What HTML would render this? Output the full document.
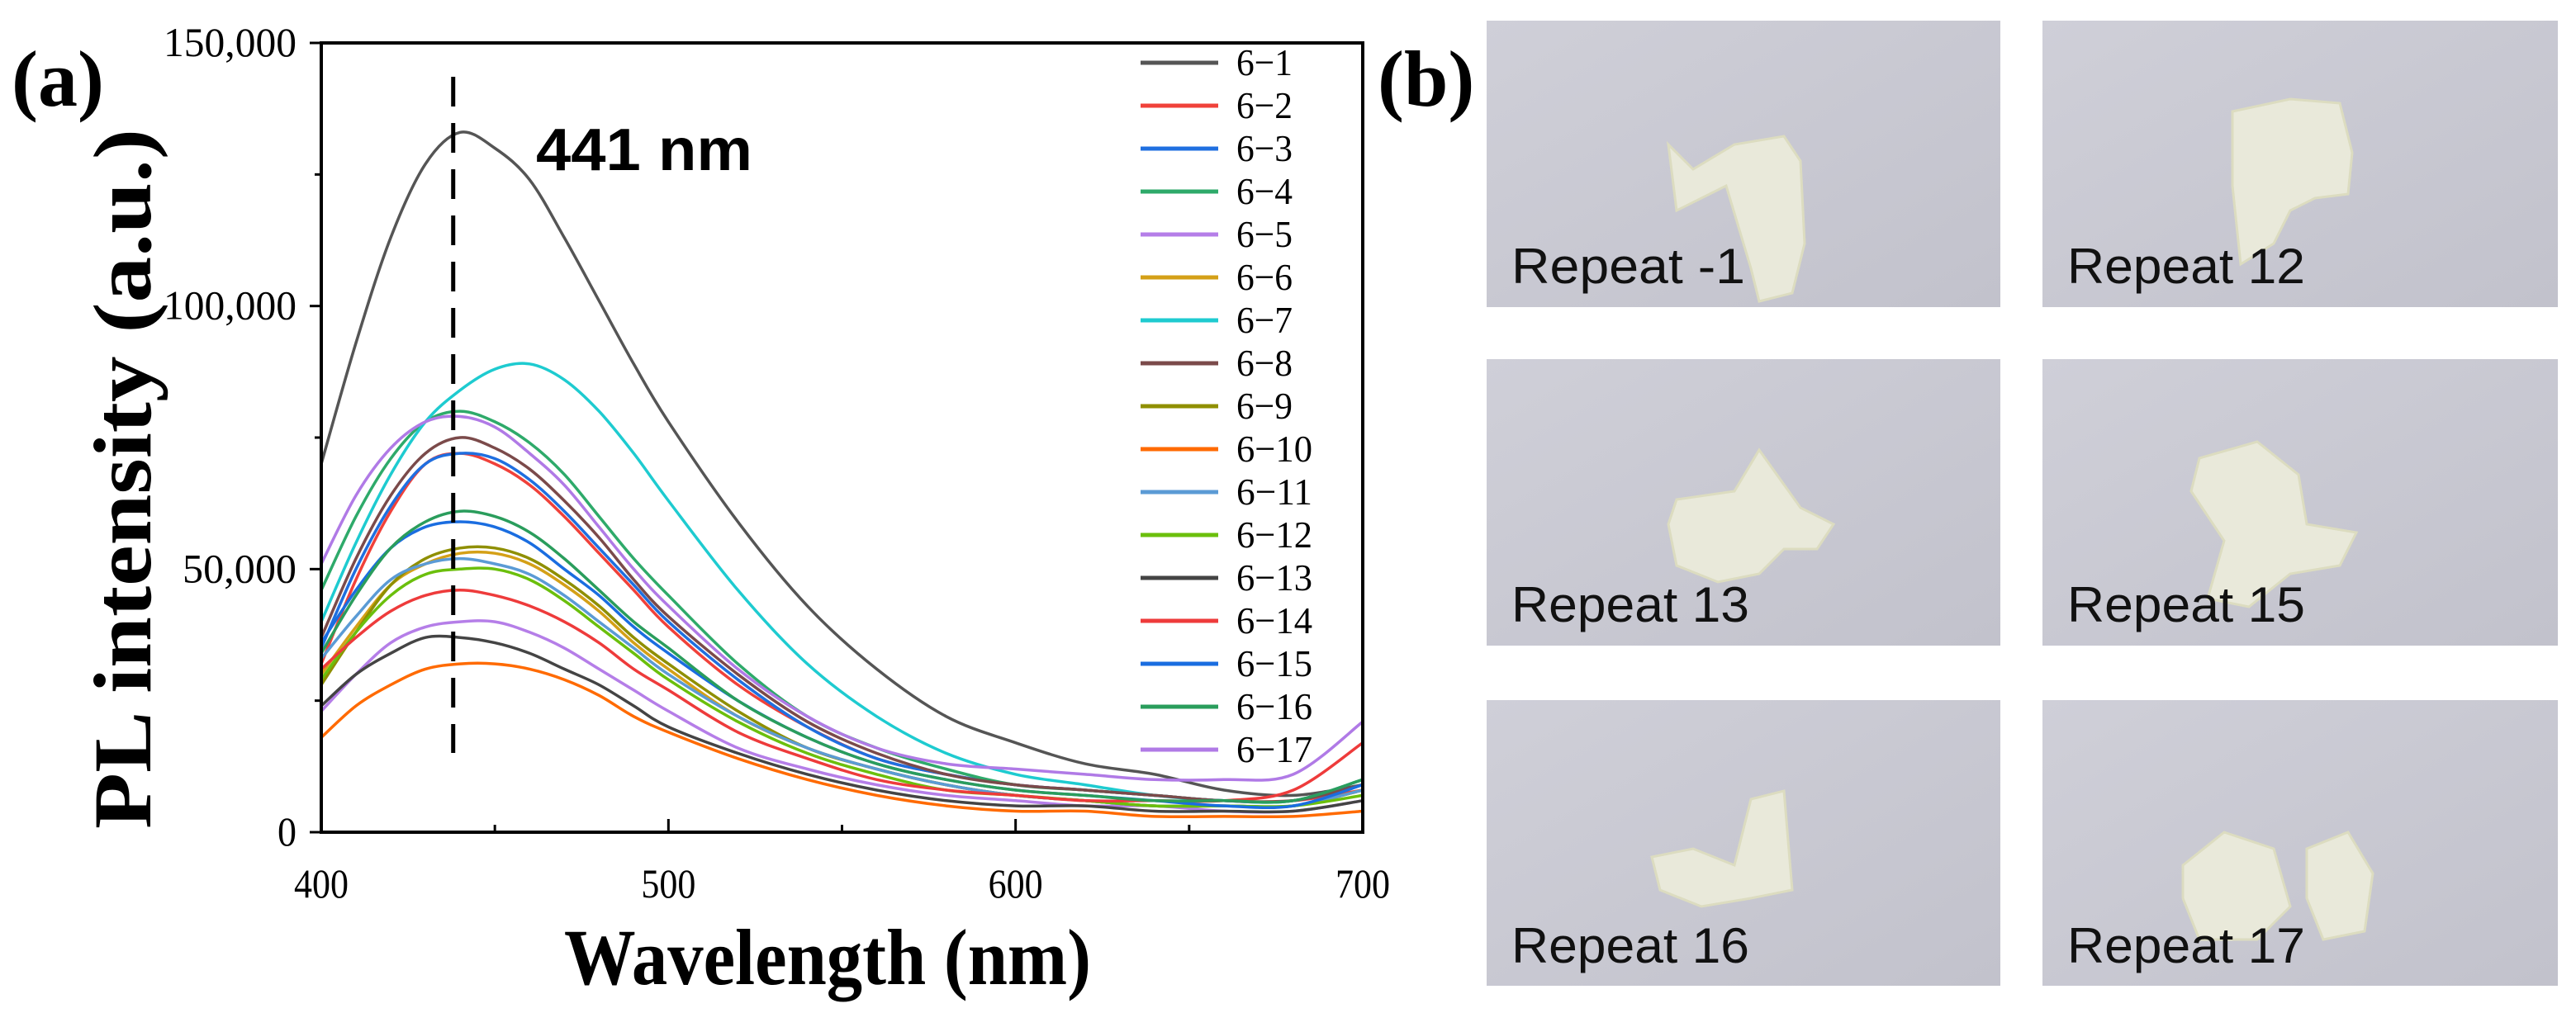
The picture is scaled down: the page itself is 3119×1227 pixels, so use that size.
<!DOCTYPE html>
<html><head><meta charset="utf-8"><style>
html,body{margin:0;padding:0;background:#fff;}
svg{display:block;}
</style></head><body>
<svg id="fig" width="3119" height="1227" viewBox="0 0 3119 1227" xmlns="http://www.w3.org/2000/svg">
<defs>
<linearGradient id="pg" x1="0" y1="0" x2="1" y2="1"><stop offset="0" stop-color="#cfcfd8"/><stop offset="1" stop-color="#c2c2cc"/></linearGradient>
</defs>
<g id="chart"></g>
<text x="14" y="128" font-family="Liberation Serif, serif" font-weight="bold" font-size="96">(a)</text>
<text x="1668" y="128" font-family="Liberation Serif, serif" font-weight="bold" font-size="96">(b)</text>
<g id="photos"></g>
</svg>
<script>
const NS='http://www.w3.org/2000/svg';
const wavelengths=[400,410,420,430,440,450,460,470,480,490,500,520,540,560,580,600,620,640,660,680,700];
const seriesNames=['6-1','6-2','6-3','6-4','6-5','6-6','6-7','6-8','6-9','6-10','6-11','6-12','6-13','6-14','6-15','6-16','6-17'];
const seriesColors=['#555555','#f0413a','#1f6fe0','#2eaa6a','#b57ee8','#d4a017','#1ecbd0','#7b4a4a','#8f8f00','#ff6a00','#5b9bd5','#6bbf0c','#444444','#ee3b3b','#1a6de0','#2a9d5c','#b07ae6'];
const s1=[70,93,113,127,133,130,124,113,101,89,78,59,43,31,22,17,13,11,8,7,9];
const s2=[32,48,61,70,72,70,66,60,53,46,39,28,20,14,11,9,8,7,6,6,8];
const s3=[35,50,62,70,72,71,67,61,54,47,40,29,20,14,11,9,8,7,6,6,9];
const s4=[46,60,71,78,80,78,74,68,60,52,45,32,22,16,12,9,8,7,6,6,10];
const s5=[23,30,36,39,40,40,38,35,31,27,23,16,12,9,7,6,5,5,4,4,6];
const s6=[30,39,47,51,53,53,51,47,42,36,31,22,16,12,9,7,6,5,5,5,8];
const s7=[40,55,68,78,84,88,89,86,80,72,63,46,32,22,15,11,9,7,6,6,10];
const s8=[37,52,64,72,75,73,69,63,56,48,41,30,21,15,11,9,8,7,6,6,9];
const s9=[28,38,47,52,54,54,52,48,43,37,32,23,16,12,9,7,6,5,5,5,8];
const s10=[18,24,28,31,32,32,31,29,26,22,19,14,10,7,5,4,4,3,3,3,4];
const s11=[33,41,48,51,52,51,49,45,40,35,30,22,16,12,9,7,6,5,5,5,8];
const s12=[29,38,45,49,50,50,48,44,39,34,29,21,15,11,8,7,6,5,5,5,7];
const s13=[24,30,34,37,37,36,34,31,28,24,20,15,11,8,6,5,5,4,4,4,6];
const s14=[31,37,42,45,46,45,43,40,36,31,27,19,14,10,8,7,6,6,6,8,17];
const s15=[36,46,54,58,59,58,55,50,45,39,34,25,18,13,10,8,7,6,5,5,9];
const s16=[34,45,54,59,61,60,57,52,46,40,35,25,18,13,10,8,7,6,6,6,10];
const s17=[51,64,73,78,79,77,72,66,58,50,43,31,22,16,13,12,11,10,10,11,21];
const seriesValues=[s1,s2,s3,s4,s5,s6,s7,s8,s9,s10,s11,s12,s13,s14,s15,s16,s17];
const xTicks=[400,500,600,700];
const yTicks=[0,50000,100000,150000];
const yTickLabels=['0','50,000','100,000','150,000'];
const peakWavelength=438;

const L=389,R=1650,T=52,B=1008;
const X=v=>L+(v-400)/300*(R-L);
const Y=v=>B-v/150000*(B-T);
const chart=document.getElementById('chart');
function mk(tag,attrs,parent){const e=document.createElementNS(NS,tag);for(const k in attrs)e.setAttribute(k,attrs[k]);(parent||chart).appendChild(e);return e;}
const SERIF='Liberation Serif, serif';

// curves
const cg=mk('g',{'clip-path':''});
seriesValues.forEach((vals,i)=>{
  const pts=vals.map((v,j)=>[X(wavelengths[j]),Y(v*1000)]);
  let d='M'+pts[0][0].toFixed(1)+' '+pts[0][1].toFixed(1);
  for(let j=0;j<pts.length-1;j++){
    const p0=pts[Math.max(0,j-1)],p1=pts[j],p2=pts[j+1],p3=pts[Math.min(pts.length-1,j+2)];
    const c1=[p1[0]+(p2[0]-p0[0])/6,p1[1]+(p2[1]-p0[1])/6];
    const c2=[p2[0]-(p3[0]-p1[0])/6,p2[1]-(p3[1]-p1[1])/6];
    d+=' C'+c1[0].toFixed(1)+' '+c1[1].toFixed(1)+' '+c2[0].toFixed(1)+' '+c2[1].toFixed(1)+' '+p2[0].toFixed(1)+' '+p2[1].toFixed(1);
  }
  const p=mk('path',{d:d,fill:'none',stroke:seriesColors[i],'stroke-width':3.5},cg);
  
  
});

// frame
const fr=mk('rect',{x:L,y:T,width:R-L,height:B-T,fill:'none',stroke:'#000','stroke-width':4});



// x ticks
xTicks.forEach(t=>{
  const ln=mk('line',{x1:X(t),x2:X(t),y1:B,y2:B-16,stroke:'#000','stroke-width':3});
  
  
  const tx=mk('text',{x:X(t),y:1087,'text-anchor':'middle','font-family':SERIF,'font-size':50,textLength:String(t).length*22,lengthAdjust:'spacingAndGlyphs'});
  tx.textContent=t;
  
  
});
[450,550,650].forEach(t=>{mk('line',{x1:X(t),x2:X(t),y1:B,y2:B-9,stroke:'#000','stroke-width':3});});
// y ticks
yTicks.forEach((t,i)=>{
  const ln=mk('line',{x1:L,x2:L-14,y1:Y(t),y2:Y(t),stroke:'#000','stroke-width':3});
  
  
  const lab=yTickLabels[i];
  const tx=mk('text',{x:L-30,y:Y(t)+16,'text-anchor':'end','font-family':SERIF,'font-size':50,textLength:lab.length*23,lengthAdjust:'spacingAndGlyphs'});
  tx.textContent=lab;
  
  
});
[25000,75000,125000].forEach(t=>{mk('line',{x1:L,x2:L-8,y1:Y(t),y2:Y(t),stroke:'#000','stroke-width':3});});

// titles
const yt=mk('text',{x:0,y:0,transform:'translate(182,580) rotate(-90)','text-anchor':'middle','font-family':SERIF,'font-weight':'bold','font-size':100,textLength:848,lengthAdjust:'spacingAndGlyphs'});
yt.textContent='PL intensity (a.u.)';


const xt=mk('text',{x:1002,y:1192,'text-anchor':'middle','font-family':SERIF,'font-weight':'bold','font-size':96,textLength:638,lengthAdjust:'spacingAndGlyphs'});
xt.textContent='Wavelength (nm)';



// dashed peak line
const dl=mk('line',{x1:X(peakWavelength),x2:X(peakWavelength),y1:93,y2:912,stroke:'#000','stroke-width':5,'stroke-dasharray':'36 20'});


const pk=mk('text',{x:649,y:206,'font-family':'Liberation Sans, sans-serif','font-weight':'bold','font-size':72,textLength:262,lengthAdjust:'spacingAndGlyphs'});
pk.textContent='441 nm';



// legend
const lg=mk('g',{});


seriesNames.forEach((n,i)=>{
  const y=76+i*52;
  const ln=mk('line',{x1:1381,x2:1475,y1:y,y2:y,stroke:seriesColors[i],'stroke-width':5},lg);
  
  
  const tx=mk('text',{x:1497,y:y+15,'font-family':SERIF,'font-size':46,textLength:n.length===3?68:92,lengthAdjust:'spacingAndGlyphs'},lg);
  tx.textContent=n.replace('-','\u2212');
  
  
});

// photos
const photos=document.getElementById('photos');
const photoLabels=['Repeat -1','Repeat 12','Repeat 13','Repeat 15','Repeat 16','Repeat 17'];
const cols=[[1800,2422],[2473,3097]];
const rows=[[25,372],[435,782],[848,1194]];
const blobs=[
 'M250 180 L300 150 L360 140 L380 170 L385 270 L370 330 L330 340 L320 300 L290 200 L230 230 L220 150 Z',
 'M230 110 L300 95 L360 100 L375 160 L370 210 L330 215 L300 230 L280 270 L240 295 L230 200 Z',
 'M230 170 L300 160 L330 110 L380 180 L420 200 L400 230 L360 230 L330 260 L280 270 L230 250 L220 200 Z',
 'M190 120 L260 100 L310 140 L320 200 L380 210 L360 250 L300 260 L250 300 L200 290 L220 220 L180 160 Z',
 'M200 190 L250 180 L300 200 L320 120 L360 110 L370 230 L320 240 L260 250 L210 230 Z',
 'M170 200 L220 160 L280 180 L300 250 L260 290 L190 290 L170 240 Z M320 180 L370 160 L400 210 L390 280 L340 290 L320 240 Z'
];
photoLabels.forEach((lab,i)=>{
  const c=cols[i%2],r=rows[Math.floor(i/2)];
  const g=mk('g',{transform:'translate('+c[0]+','+r[0]+')'},photos);
  
  
  mk('rect',{x:0,y:0,width:c[1]-c[0],height:r[1]-r[0],fill:'url(#pg)'},g);
  const b=mk('path',{d:blobs[i],fill:'#e9e9da',stroke:'#dcdcc0','stroke-width':3},g);
  
  
  const t=mk('text',{x:30,y:318,'font-family':'Liberation Sans, sans-serif','font-size':60,fill:'#111',textLength:lab==='Repeat -1'?283:288,lengthAdjust:'spacingAndGlyphs'},g);
  t.textContent=lab;
  
  
});
</script>
</body></html>
